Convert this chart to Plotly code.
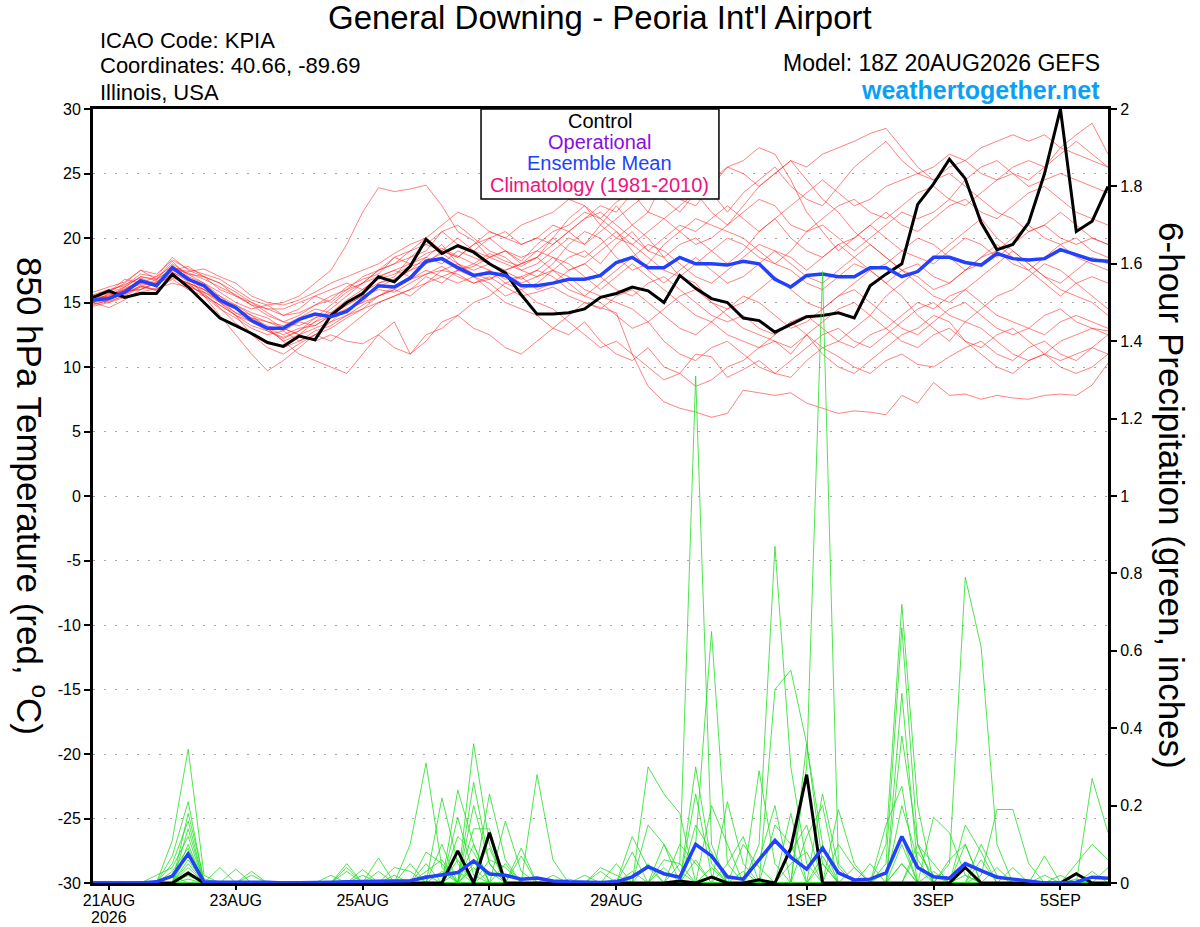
"""
GEFS plume for General Downing - Peoria Int'l Airport (KPIA)
850 hPa temperature (left axis) and 6-hour precipitation (right axis)
"""

import pandas as pd
import plotly.graph_objects as go

# GEFS 18Z 20AUG2026, 6-hourly steps out to 384 h
times = pd.date_range('2026-08-20 18:00', periods=65, freq='6h')

tick_dates = ['2026-08-21', '2026-08-23', '2026-08-25', '2026-08-27',
              '2026-08-29', '2026-09-01', '2026-09-03', '2026-09-05']
tick_labels = ['21AUG', '23AUG', '25AUG', '27AUG', '29AUG', '1SEP', '3SEP', '5SEP']

temp_ticks = [-30, -25, -20, -15, -10, -5, 0, 5, 10, 15, 20, 25, 30]
temp_tick_labels = ['-30', '-25', '-20', '-15', '-10', '-5', '0', '5', '10', '15', '20', '25', '30']

# ---- 850 hPa temperature (deg C) ----
temp_control = [15.4, 15.9, 15.4, 15.7, 15.7,
                17.2, 16.2, 15.0, 13.8, 13.2,
                12.6, 11.9, 11.6, 12.4, 12.1, 14.0, 15.0,
                15.7, 17.0, 16.6, 17.8, 19.9, 18.8, 19.4, 18.9, 18.0, 17.3, 15.6,
                14.1, 14.1, 14.2, 14.5, 15.4, 15.7, 16.2, 15.9, 15.0, 17.1, 16.1, 15.3, 15.0,
                13.8, 13.6, 12.7, 13.3, 13.9, 14.0, 14.2, 13.8, 16.3, 17.2, 18.0, 22.6,
                24.2, 26.1, 24.6, 21.2, 19.1, 19.5, 21.2, 25.0, 30.0, 20.5, 21.3, 24.0]

temp_mean = [15.2, 15.3, 15.8, 16.7, 16.3,
             17.7, 16.8, 16.3, 15.2, 14.6,
             13.6, 13.0, 13.0, 13.7, 14.1, 13.9, 14.3,
             15.3, 16.3, 16.2, 16.9, 18.2, 18.4, 17.7, 17.1, 17.3, 17.1, 16.3,
             16.3, 16.5, 16.8, 16.8, 17.1, 18.1, 18.5, 17.7, 17.7, 18.5, 18.0, 18.0, 17.9,
             18.2, 18.0, 16.8, 16.2, 17.1, 17.2, 17.0, 17.0, 17.7, 17.7, 17.0, 17.4,
             18.5, 18.5, 18.1, 17.9, 18.8, 18.4, 18.3, 18.4, 19.1, 18.7, 18.3, 18.2]

t01 = [15.0, 15.5, 16.2, 17.0, 16.8,
       18.0, 17.2, 16.5, 15.8, 15.0,
       14.5, 14.8, 15.0, 15.5, 16.5, 17.5, 19.5,
       22.0, 23.9, 23.6, 23.8, 24.1, 22.5, 20.5, 19.8, 18.5, 19.0, 18.2,
       19.5, 20.5, 21.0, 22.0, 21.5, 22.8, 23.5, 22.0, 24.5, 25.2, 24.8, 23.5, 22.0,
       23.5, 24.5, 25.5, 24.0, 23.0, 22.5, 24.0, 25.5, 26.5, 27.5, 26.0, 25.0,
       24.5, 25.5, 26.0, 27.0, 27.5, 28.0, 27.5, 28.0, 27.0, 26.5, 26.0, 25.5]
t02 = [15.3, 15.0, 15.6, 16.3, 16.0,
       17.0, 16.5, 15.5, 14.5, 13.8,
       13.0, 12.5, 12.8, 13.5, 13.2, 14.0, 14.8,
       15.5, 16.0, 15.8, 16.5, 17.2, 17.8, 17.0, 16.5, 17.0, 16.2, 15.5,
       15.8, 16.2, 15.5, 15.0, 14.6, 14.2, 11.0, 8.5, 7.3, 6.8, 6.5, 6.1, 6.4,
       8.2, 8.0, 7.8, 8.0, 7.2, 6.8, 6.4, 6.6, 6.5, 6.3, 7.8, 7.2,
       8.8, 7.8, 7.9, 7.5, 7.8, 7.6, 7.5, 7.8, 7.9, 7.8, 8.6, 10.3]
t03 = [14.8, 15.2, 15.9, 16.0, 16.5,
       17.5, 16.8, 16.2, 15.0, 14.0,
       12.5, 11.5, 11.0, 11.8, 12.5, 12.0, 13.0,
       14.0, 15.0, 15.5, 16.0, 17.0, 16.5, 17.5, 17.0, 16.0, 15.0, 14.5,
       14.0, 13.0, 12.5, 13.5, 12.0, 11.0, 10.5, 11.5, 10.0, 9.5, 11.0, 10.8, 9.2,
       9.8, 10.5, 9.5, 9.2, 10.5, 11.5, 10.8, 10.0, 9.5, 10.5, 11.0, 10.2,
       10.0, 10.8, 11.5, 12.0, 11.0, 10.5, 11.5, 12.0, 11.0, 10.5, 11.5, 12.5]
t04 = [15.5, 15.8, 16.5, 17.5, 16.8,
       18.2, 17.0, 15.5, 14.0, 12.5,
       11.0, 9.7, 10.5, 11.5, 12.5, 13.5, 14.5,
       15.0, 16.5, 17.0, 18.5, 19.0, 20.5, 21.0, 20.0, 19.0, 18.5, 17.5,
       18.0, 19.0, 20.0, 19.5, 21.0, 22.5, 21.0, 20.0, 18.5, 17.0, 16.5, 15.0, 14.0,
       13.0, 12.5, 12.0, 11.5, 12.5, 11.0, 10.0, 9.5, 10.5, 11.5, 12.5, 13.0,
       14.0, 13.5, 12.0, 11.5, 12.5, 13.0, 12.0, 11.0, 12.0, 12.5, 13.0, 12.8]
t05 = [15.0, 14.6, 15.2, 16.0, 16.5,
       17.0, 16.5, 16.0, 15.5, 14.5,
       13.5, 13.0, 12.0, 11.0, 10.5, 10.0, 9.5,
       11.0, 12.5, 13.5, 11.0, 12.0, 13.5, 14.0, 13.0, 12.5, 11.5, 11.0,
       12.0, 13.0, 14.0, 15.0, 14.5, 15.5, 16.0, 15.0, 14.0, 13.0, 12.5, 13.5, 14.5,
       15.0, 16.0, 17.0, 16.0, 15.0, 14.5, 15.5, 16.5, 17.5, 16.5, 15.5, 14.0,
       13.0, 12.0, 13.5, 14.5, 15.5, 16.0, 17.0, 18.0, 17.5, 16.5, 15.5, 14.5]
t06 = [15.2, 15.6, 16.0, 16.8, 16.2,
       17.6, 17.0, 16.5, 15.5, 14.8,
       14.0, 13.5, 13.2, 13.8, 14.5, 14.2, 15.0,
       15.8, 16.5, 16.8, 17.5, 18.5, 19.5, 18.0, 17.5, 18.0, 17.2, 16.5,
       17.0, 17.5, 18.5, 19.0, 18.0, 19.5, 20.5, 19.0, 18.5, 19.5, 20.0, 19.0, 18.0,
       19.0, 20.5, 21.5, 20.0, 19.0, 18.5, 19.5, 20.0, 21.0, 22.0, 21.0, 20.5,
       21.5, 22.5, 23.0, 22.0, 21.5, 22.5, 23.5, 24.0, 23.0, 22.0, 21.5, 21.0]
t07 = [15.4, 15.8, 16.8, 16.5, 17.0,
       17.8, 17.2, 17.0, 16.0, 15.5,
       14.8, 14.5, 14.0, 14.5, 15.5, 15.0, 16.0,
       17.0, 17.5, 18.0, 18.5, 19.5, 19.0, 18.5, 19.5, 20.0, 19.0, 18.0,
       18.5, 19.5, 20.5, 21.5, 22.5, 22.0, 23.5, 24.0, 24.5, 23.0, 22.5, 24.0, 25.5,
       26.0, 27.0, 26.5, 24.5, 22.0, 20.5, 19.0, 20.0, 21.0, 20.0, 19.0, 18.5,
       18.0, 19.0, 20.0, 19.5, 18.5, 19.5, 20.5, 21.0, 20.0, 19.5, 20.0, 19.5]
t08 = [14.9, 15.1, 15.5, 16.2, 16.0,
       16.8, 16.0, 15.5, 14.8, 14.0,
       13.5, 13.0, 12.5, 13.0, 13.2, 14.0, 14.5,
       15.0, 15.5, 16.0, 16.8, 17.5, 17.0, 17.5, 18.0, 17.5, 16.5, 16.0,
       16.5, 17.5, 17.0, 16.0, 15.5, 15.0, 14.5, 13.5, 12.0, 11.0, 10.5, 11.5, 12.0,
       11.0, 10.0, 9.5, 10.5, 11.5, 12.5, 13.0, 12.0, 11.5, 12.5, 13.5, 14.5,
       15.0, 14.0, 13.5, 13.0, 12.0, 11.0, 10.5, 11.0, 10.5, 11.0, 11.5, 11.0]
t09 = [15.6, 16.0, 16.3, 17.2, 17.0,
       18.5, 17.5, 17.0, 16.5, 15.5,
       15.0, 14.5, 14.5, 15.0, 15.5, 16.0, 16.5,
       16.0, 17.0, 17.5, 18.0, 18.5, 18.0, 19.0, 18.5, 18.0, 17.5, 18.0,
       19.0, 18.5, 17.5, 18.0, 19.0, 20.0, 19.5, 18.5, 17.5, 17.0, 18.0, 19.0, 20.0,
       19.5, 18.5, 18.0, 19.0, 20.5, 21.0, 20.0, 19.0, 20.0, 21.0, 22.0, 21.5,
       22.0, 23.0, 22.5, 23.5, 24.5, 25.0, 24.5, 25.5, 27.0, 28.0, 28.9, 26.5]
t10 = [15.1, 15.4, 16.1, 16.6, 16.3,
       17.3, 16.8, 16.2, 15.2, 14.2,
       13.8, 13.5, 13.0, 12.5, 13.5, 14.5, 15.5,
       16.5, 17.5, 18.0, 19.0, 19.5, 20.5, 19.5, 19.0, 20.0, 20.5, 19.5,
       20.0, 21.0, 20.5, 19.5, 20.5, 21.5, 22.5, 23.5, 23.0, 22.0, 23.5, 24.5, 25.5,
       25.0, 24.0, 25.0, 26.0, 25.5, 26.5, 27.0, 27.5, 28.1, 28.5, 27.0, 25.5,
       24.5, 25.0, 24.0, 23.0, 22.0, 21.5, 20.5, 21.0, 22.0, 21.0, 20.0, 19.5]
t11 = [15.5, 15.3, 15.9, 16.0, 16.6,
       17.4, 16.6, 15.8, 15.2, 14.5,
       14.0, 13.0, 12.0, 12.5, 13.0, 13.5, 14.0,
       14.5, 15.5, 16.0, 15.5, 16.5, 17.5, 18.0, 17.0, 16.5, 15.5, 16.0,
       15.0, 14.5, 13.5, 12.5, 11.5, 12.0, 11.0, 10.0, 9.0, 9.5, 8.5, 9.0, 10.0,
       10.5, 11.5, 12.0, 11.0, 12.5, 13.5, 14.5, 15.0, 14.0, 13.0, 12.0, 11.5,
       12.5, 13.0, 12.0, 11.0, 10.0, 9.5, 10.5, 11.0, 10.0, 9.5, 10.0, 11.0]
t12 = [15.0, 15.7, 15.8, 16.5, 16.3,
       17.5, 17.8, 17.0, 16.5, 15.8,
       15.0, 14.2, 13.5, 14.0, 14.8, 15.5, 16.0,
       16.5, 17.0, 17.5, 17.0, 18.0, 19.0, 20.0, 19.0, 18.5, 18.0, 17.5,
       17.0, 18.0, 19.5, 20.5, 20.0, 18.5, 17.5, 18.0, 19.5, 20.5, 21.5, 21.0, 20.5,
       20.0, 19.0, 18.0, 17.5, 16.5, 16.0, 17.0, 18.0, 17.5, 16.5, 17.5, 18.0,
       17.0, 16.5, 17.5, 18.5, 19.0, 18.0, 17.5, 18.5, 19.5, 20.0, 19.0, 18.5]
t13 = [14.7, 15.0, 15.4, 15.8, 16.1,
       16.5, 16.2, 15.8, 15.0, 14.5,
       13.8, 13.2, 12.8, 12.0, 12.5, 13.0, 13.8,
       14.5, 15.0, 15.5, 16.0, 16.5, 17.0, 16.5, 17.0, 17.5, 16.8, 17.0,
       16.0, 16.5, 17.5, 18.0, 17.0, 16.0, 15.5, 16.5, 17.0, 16.0, 15.0, 14.0, 13.5,
       14.0, 13.0, 12.5, 13.5, 14.0, 13.0, 12.0, 11.5, 12.5, 13.0, 14.0, 15.0,
       14.5, 15.5, 16.0, 15.0, 14.0, 13.5, 13.0, 12.5, 13.5, 14.0, 13.5, 13.0]
t14 = [15.8, 16.2, 16.6, 17.5, 17.2,
       18.3, 17.6, 17.2, 16.8, 16.0,
       15.2, 14.8, 14.0, 14.2, 14.8, 15.2, 16.2,
       16.8, 17.2, 18.5, 18.0, 18.8, 19.2, 18.6, 18.0, 18.8, 18.2, 17.8,
       18.5, 20.0, 21.5, 22.5, 21.0, 20.0, 21.0, 22.0, 21.5, 20.5, 19.5, 20.0, 21.0,
       22.0, 23.0, 22.5, 21.0, 20.5, 21.5, 22.5, 23.0, 22.0, 21.5, 22.5, 23.5,
       24.0, 23.0, 24.5, 25.5, 26.0, 25.0, 24.0, 24.5, 25.0, 24.5, 24.0, 23.5]
t15 = [15.3, 15.5, 16.0, 16.4, 16.6,
       17.2, 16.4, 15.6, 14.8, 14.0,
       13.2, 12.8, 12.3, 12.8, 13.8, 14.2, 15.2,
       16.0, 16.8, 17.2, 17.8, 18.2, 18.8, 18.0, 17.2, 16.8, 17.4, 16.8,
       17.5, 18.5, 18.0, 17.0, 16.0, 17.0, 18.0, 17.0, 16.0, 15.0, 14.0, 13.5, 12.5,
       12.0, 11.5, 12.5, 13.5, 12.5, 11.5, 12.0, 13.0, 14.0, 15.5, 16.5, 17.5,
       18.5, 19.5, 20.5, 21.5, 20.0, 19.0, 18.0, 17.0, 16.5, 17.5, 18.5, 18.0]
t16 = [15.2, 15.9, 16.4, 16.9, 16.4,
       17.9, 16.9, 16.0, 15.0, 14.2,
       13.5, 12.8, 12.2, 12.8, 13.5, 14.0, 14.8,
       15.5, 16.2, 16.8, 17.5, 18.0, 18.5, 17.5, 17.8, 18.5, 19.0, 18.5,
       19.0, 20.0, 19.0, 18.5, 19.5, 20.5, 19.0, 17.5, 16.5, 17.5, 18.5, 17.5, 16.5,
       17.0, 18.0, 19.0, 18.5, 17.5, 18.5, 19.5, 18.5, 17.5, 18.0, 19.0, 20.0,
       19.5, 18.5, 17.5, 18.0, 19.0, 20.0, 21.0, 20.0, 19.5, 18.5, 18.0, 17.5]
t17 = [15.0, 15.2, 15.7, 16.2, 16.8,
       17.6, 17.3, 16.8, 16.2, 15.6,
       14.8, 14.0, 13.5, 13.2, 13.8, 14.8, 15.8,
       16.5, 17.5, 18.5, 19.0, 20.0, 21.0, 22.0, 21.5, 20.5, 20.0, 21.0,
       21.5, 22.0, 23.0, 22.5, 21.5, 20.5, 19.5, 20.5, 21.5, 22.5, 23.5, 22.0, 21.0,
       22.5, 24.0, 25.0, 26.0, 24.5, 23.0, 22.0, 20.5, 19.5, 18.5, 17.5, 16.5,
       15.5, 15.0, 16.0, 17.0, 18.0, 19.0, 18.0, 17.0, 16.0, 15.5, 15.0, 14.0]
t18 = [15.6, 15.4, 16.0, 16.6, 16.4,
       17.1, 16.3, 15.7, 14.6, 13.4,
       12.5, 12.0, 11.5, 12.0, 12.8, 13.2, 14.0,
       14.8, 15.5, 16.2, 16.8, 17.2, 17.5, 17.2, 16.5, 16.8, 17.5, 18.0,
       18.5, 17.5, 16.5, 15.5, 15.0, 14.0, 13.0, 13.5, 14.5, 15.5, 16.0, 15.0, 14.5,
       15.5, 15.0, 14.0, 13.0, 13.5, 14.5, 15.5, 16.0, 15.0, 14.0, 13.0, 12.5,
       13.5, 14.5, 15.0, 14.0, 13.0, 12.5, 13.0, 14.0, 14.5, 13.5, 13.0, 12.5]
t19 = [15.4, 15.7, 16.2, 17.0, 16.7,
       17.7, 17.4, 17.6, 17.0, 16.5,
       15.5, 15.0, 14.8, 15.2, 15.8, 16.5, 17.0,
       17.5, 18.0, 18.8, 19.5, 20.0, 19.0, 18.5, 19.5, 20.5, 20.0, 19.5,
       20.0, 19.5, 20.5, 21.5, 22.0, 21.0, 20.0, 19.0, 20.0, 21.0, 20.5, 21.5, 22.5,
       21.5, 20.5, 21.5, 22.5, 23.5, 24.5, 23.5, 22.5, 23.0, 24.0, 24.5, 25.0,
       25.5, 26.5, 26.0, 25.0, 24.5, 25.5, 26.0, 25.5, 26.5, 27.5, 26.5, 25.5]
t20 = [15.1, 15.3, 15.7, 16.3, 15.9,
       16.9, 16.5, 16.0, 15.2, 14.8,
       14.2, 13.8, 13.0, 12.5, 12.0, 12.5, 12.0,
       11.8, 12.5, 11.5, 11.0, 12.5, 13.0, 14.0, 15.0, 15.5, 16.5, 17.0,
       17.5, 17.0, 16.0, 15.5, 16.5, 17.5, 18.5, 19.5, 19.0, 18.0, 17.0, 16.5, 17.5,
       18.5, 19.5, 19.0, 18.0, 17.0, 16.5, 17.5, 18.5, 19.5, 18.5, 17.5, 17.0,
       16.0, 16.5, 17.5, 18.5, 19.5, 18.5, 17.5, 16.5, 15.5, 16.5, 17.0, 16.5]

temp_members = [t01, t02, t03, t04, t05, t06, t07, t08, t09, t10,
                t11, t12, t13, t14, t15, t16, t17, t18, t19, t20]

# ---- 6-hour precipitation (inches) ----
precip_control = [0, 0, 0, 0, 0, 0, 0.026, 0, 0, 0, 0, 0, 0,
                  0, 0, 0, 0, 0, 0, 0, 0, 0, 0, 0.083, 0, 0.13,
                  0, 0, 0, 0, 0, 0, 0, 0, 0, 0, 0, 0.005, 0,
                  0.015, 0, 0, 0.008, 0, 0.09, 0.28, 0, 0, 0, 0, 0, 0,
                  0, 0, 0, 0.04, 0, 0, 0, 0, 0, 0, 0.024, 0, 0]

precip_mean = [0, 0, 0, 0, 0.003, 0.018, 0.075, 0.003, 0.002, 0.002, 0.004, 0.002, 0,
               0, 0, 0.002, 0.003, 0.004, 0.004, 0.005, 0.006, 0.015, 0.02, 0.027, 0.057, 0.023,
               0.02, 0.01, 0.013, 0.005, 0.003, 0.002, 0.001, 0.003, 0.016, 0.042, 0.024, 0.015, 0.1,
               0.07, 0.016, 0.01, 0.06, 0.11, 0.067, 0.036, 0.09, 0.026, 0.008, 0.01, 0.026, 0.12,
               0.04, 0.016, 0.012, 0.05, 0.032, 0.015, 0.01, 0.006, 0, 0, 0.002, 0.015, 0.012]

p01 = [0, 0, 0, 0, 0, 0.11, 0.346, 0.02, 0, 0, 0, 0, 0,
       0, 0, 0, 0, 0, 0, 0, 0, 0.05, 0, 0, 0.36, 0.1,
       0, 0, 0, 0, 0, 0, 0, 0, 0, 0, 0, 0.05, 1.31,
       0.1, 0, 0, 0, 0, 0, 0, 0, 0, 0, 0, 0, 0.05,
       0, 0, 0, 0.02, 0, 0, 0, 0, 0, 0, 0, 0, 0]
p02 = [0, 0, 0, 0, 0, 0.07, 0.21, 0, 0, 0, 0, 0, 0,
       0, 0, 0, 0, 0, 0, 0, 0, 0, 0.22, 0.05, 0, 0,
       0, 0, 0, 0, 0, 0, 0, 0, 0.12, 0.04, 0, 0, 0.1,
       0.65, 0.05, 0, 0, 0, 0, 0, 0.05, 0, 0, 0, 0, 0,
       0, 0.17, 0.13, 0.02, 0, 0, 0, 0, 0, 0, 0, 0, 0]
p03 = [0, 0, 0, 0, 0, 0, 0.18, 0.01, 0, 0, 0, 0, 0,
       0, 0, 0, 0, 0, 0, 0, 0.1, 0.31, 0.04, 0, 0, 0,
       0, 0, 0.28, 0.06, 0, 0, 0, 0, 0, 0, 0, 0, 0,
       0, 0, 0, 0, 0, 0, 0.3, 1.58, 0.05, 0, 0, 0, 0.1,
       0, 0, 0, 0, 0, 0, 0, 0, 0, 0, 0, 0, 0]
p04 = [0, 0, 0, 0, 0, 0.05, 0.16, 0, 0, 0, 0, 0, 0,
       0, 0, 0, 0, 0, 0, 0, 0, 0, 0, 0.24, 0.1, 0,
       0, 0, 0, 0, 0, 0, 0, 0, 0, 0.3, 0.23, 0.18, 0,
       0, 0, 0, 0.1, 0.87, 0.3, 0.05, 0, 0, 0, 0, 0, 0,
       0, 0, 0, 0.1, 0, 0, 0, 0, 0, 0, 0, 0, 0]
p05 = [0, 0, 0, 0, 0, 0, 0.14, 0, 0, 0.036, 0, 0, 0,
       0, 0, 0, 0, 0, 0, 0, 0, 0, 0, 0, 0.26, 0.05,
       0, 0, 0, 0, 0, 0, 0.03, 0, 0, 0, 0, 0, 0,
       0, 0, 0, 0, 0.5, 0.55, 0.36, 0.1, 0, 0, 0, 0, 0.38,
       0.1, 0, 0, 0, 0, 0, 0, 0, 0, 0, 0, 0, 0]
p06 = [0, 0, 0, 0, 0.02, 0.04, 0.12, 0, 0, 0, 0, 0, 0,
       0, 0, 0, 0.05, 0, 0, 0, 0, 0, 0, 0, 0, 0.23,
       0.06, 0, 0, 0, 0, 0, 0, 0, 0, 0, 0, 0, 0.3,
       0.05, 0, 0, 0, 0, 0, 0, 0, 0, 0, 0, 0.1, 0.72,
       0.2, 0, 0, 0, 0, 0, 0, 0, 0, 0, 0, 0.27, 0.13]
p07 = [0, 0, 0, 0, 0, 0, 0.1, 0, 0.04, 0, 0, 0, 0,
       0, 0, 0, 0, 0.035, 0, 0, 0, 0, 0, 0, 0.2, 0.05,
       0, 0, 0, 0, 0, 0, 0, 0.05, 0, 0, 0, 0, 0,
       0, 0.21, 0.05, 0, 0, 0, 0, 0, 0, 0, 0, 0.05, 0.66,
       0.1, 0, 0, 0, 0.06, 0, 0, 0, 0, 0, 0, 0, 0]
p08 = [0, 0, 0, 0, 0, 0.03, 0.09, 0, 0, 0, 0, 0, 0,
       0, 0, 0, 0, 0, 0.065, 0, 0, 0, 0, 0.17, 0.02, 0,
       0.16, 0.03, 0, 0, 0, 0, 0, 0, 0, 0.15, 0.1, 0, 0,
       0, 0, 0, 0.29, 0.05, 0, 0, 0, 0, 0, 0, 0, 0.49,
       0.04, 0, 0, 0, 0, 0, 0, 0, 0.07, 0, 0, 0, 0]
p09 = [0, 0, 0, 0, 0, 0, 0.08, 0, 0, 0, 0.03, 0, 0,
       0, 0, 0, 0, 0, 0, 0.04, 0.03, 0, 0, 0, 0.14, 0.14,
       0, 0.09, 0, 0, 0, 0, 0, 0, 0, 0, 0, 0, 0.23,
       0.02, 0, 0, 0, 0, 0, 0, 0, 0.19, 0.05, 0, 0, 0,
       0, 0, 0.05, 0.79, 0.61, 0.1, 0, 0, 0, 0, 0, 0, 0]
p10 = [0, 0, 0, 0, 0, 0, 0.06, 0, 0, 0, 0, 0, 0,
       0, 0, 0, 0.04, 0, 0, 0, 0, 0.08, 0.05, 0, 0, 0,
       0, 0.07, 0, 0, 0, 0, 0, 0, 0, 0, 0.1, 0.03, 0,
       0, 0, 0, 0, 0, 0, 0.36, 0.05, 0, 0, 0, 0, 0,
       0, 0, 0, 0, 0.02, 0.19, 0.19, 0.05, 0, 0, 0, 0, 0]
p11 = [0, 0, 0, 0, 0, 0, 0.05, 0, 0, 0, 0, 0, 0,
       0, 0, 0.02, 0, 0, 0, 0, 0, 0, 0.1, 0, 0, 0.06,
       0.04, 0, 0, 0, 0, 0, 0, 0, 0.08, 0, 0, 0, 0,
       0, 0, 0.1, 0.04, 0, 0.18, 0, 0, 0, 0, 0, 0.15, 0.25,
       0, 0, 0, 0, 0, 0, 0, 0, 0, 0, 0.05, 0.1, 0.06]
p12 = [0, 0, 0, 0, 0, 0, 0.04, 0, 0, 0, 0, 0, 0,
       0, 0, 0, 0, 0, 0.03, 0, 0, 0, 0, 0.12, 0.08, 0,
       0, 0, 0, 0.02, 0, 0, 0, 0, 0, 0, 0.06, 0.05, 0,
       0, 0, 0, 0, 0.15, 0.1, 0, 0, 0, 0, 0.05, 0, 0,
       0, 0, 0, 0.15, 0.08, 0, 0, 0, 0, 0, 0, 0, 0]
p13 = [0, 0, 0, 0, 0, 0, 0.03, 0, 0, 0, 0, 0, 0,
       0, 0, 0, 0, 0.02, 0, 0, 0, 0.03, 0.06, 0, 0, 0,
       0, 0, 0, 0, 0.01, 0, 0, 0, 0, 0, 0, 0, 0.15,
       0.08, 0, 0, 0, 0, 0, 0.12, 0.2, 0, 0, 0, 0, 0,
       0.1, 0.05, 0, 0, 0, 0, 0.04, 0, 0, 0, 0, 0, 0]
p14 = [0, 0, 0, 0, 0, 0, 0.02, 0, 0, 0, 0, 0, 0,
       0, 0, 0, 0, 0, 0, 0.02, 0, 0, 0, 0, 0.05, 0.09,
       0, 0, 0, 0, 0, 0, 0.04, 0.02, 0, 0, 0, 0, 0,
       0, 0.05, 0.12, 0, 0, 0, 0, 0, 0.1, 0.04, 0, 0, 0,
       0, 0, 0.06, 0.1, 0, 0, 0, 0, 0, 0.02, 0, 0, 0]
p15 = [0, 0, 0, 0, 0, 0.02, 0, 0, 0, 0, 0, 0, 0,
       0, 0, 0, 0, 0, 0, 0, 0.05, 0, 0, 0.06, 0, 0,
       0, 0, 0, 0, 0, 0, 0, 0, 0, 0.05, 0, 0, 0,
       0.2, 0.1, 0, 0, 0, 0.08, 0.15, 0, 0, 0, 0, 0, 0.2,
       0.06, 0, 0, 0, 0, 0.04, 0, 0, 0, 0, 0, 0, 0]
p16 = [0, 0, 0, 0, 0, 0, 0.01, 0, 0, 0, 0, 0, 0,
       0, 0, 0, 0.03, 0, 0, 0, 0, 0, 0, 0, 0.04, 0,
       0, 0, 0, 0, 0, 0, 0, 0, 0, 0, 0, 0.1, 0.05,
       0, 0, 0, 0, 0, 0, 0, 0.23, 0.04, 0, 0, 0, 0,
       0, 0.03, 0, 0, 0, 0, 0, 0, 0, 0, 0, 0, 0.04]
p17 = [0, 0, 0, 0, 0, 0, 0, 0, 0, 0, 0.02, 0, 0,
       0, 0, 0, 0, 0, 0, 0, 0, 0, 0.03, 0, 0, 0,
       0.05, 0, 0, 0, 0, 0, 0, 0, 0.03, 0, 0, 0, 0,
       0, 0, 0, 0.06, 0.2, 0, 0, 0, 0, 0, 0, 0.03, 0.12,
       0, 0, 0, 0.04, 0, 0, 0, 0, 0, 0, 0, 0, 0]
p18 = [0, 0, 0, 0, 0, 0, 0, 0, 0, 0, 0, 0, 0,
       0, 0, 0, 0, 0, 0, 0, 0, 0.02, 0, 0, 0, 0.03,
       0, 0, 0, 0, 0, 0.02, 0, 0, 0, 0, 0, 0, 0,
       0.04, 0, 0, 0, 0, 0.05, 0.08, 0, 0, 0, 0, 0, 0,
       0.08, 0.02, 0, 0, 0, 0, 0, 0, 0.02, 0, 0, 0, 0]
p19 = [0, 0, 0, 0, 0, 0, 0.02, 0, 0, 0, 0, 0, 0,
       0, 0, 0, 0, 0, 0, 0, 0, 0, 0, 0.03, 0, 0,
       0, 0, 0, 0, 0, 0, 0, 0, 0, 0, 0.04, 0, 0,
       0, 0, 0.03, 0, 0, 0, 0, 0, 0, 0.04, 0, 0, 0,
       0, 0, 0, 0, 0.1, 0.02, 0, 0, 0, 0, 0, 0.03, 0]
p20 = [0, 0, 0, 0, 0, 0, 0, 0, 0, 0, 0, 0, 0,
       0, 0, 0, 0, 0, 0, 0, 0, 0, 0, 0, 0.1, 0,
       0, 0, 0, 0, 0, 0, 0, 0.01, 0, 0, 0, 0, 0.06,
       0, 0, 0, 0, 0, 0, 0, 0.07, 0, 0, 0, 0, 0.05,
       0, 0, 0, 0, 0, 0, 0, 0, 0, 0, 0.01, 0, 0]

precip_members = [p01, p02, p03, p04, p05, p06, p07, p08, p09, p10,
                  p11, p12, p13, p14, p15, p16, p17, p18, p19, p20]

FONT = 'Liberation Sans, Arial, Helvetica, sans-serif'
RED = 'rgba(255, 30, 30, 0.7)'
GREEN = '#22dd22'
MEAN_BLUE = '#2141ff'

fig = go.Figure()

# Ensemble members
for series in temp_members:
    fig.add_trace(go.Scatter(x=times, y=series, mode='lines', yaxis='y',
                             line=dict(color=RED, width=0.8),
                             showlegend=False, hoverinfo='skip'))

for series in precip_members:
    fig.add_trace(go.Scatter(x=times, y=series, mode='lines', yaxis='y2',
                             line=dict(color=GREEN, width=0.8),
                             showlegend=False, hoverinfo='skip'))

# Control run
fig.add_trace(go.Scatter(x=times, y=precip_control, mode='lines', yaxis='y2',
                         line=dict(color='black', width=3), showlegend=False))
fig.add_trace(go.Scatter(x=times, y=temp_control, mode='lines', yaxis='y',
                         line=dict(color='black', width=3), showlegend=False))

# Ensemble mean
fig.add_trace(go.Scatter(x=times, y=precip_mean, mode='lines', yaxis='y2',
                         line=dict(color=MEAN_BLUE, width=3.5), showlegend=False))
fig.add_trace(go.Scatter(x=times, y=temp_mean, mode='lines', yaxis='y',
                         line=dict(color=MEAN_BLUE, width=3.5), showlegend=False))

fig.update_layout(
    width=1200,
    height=927,
    margin=dict(l=93, r=92, t=109, b=44),
    paper_bgcolor='white',
    plot_bgcolor='white',
    font=dict(family=FONT, color='black', size=15),
    showlegend=False,
    xaxis=dict(
        type='date',
        range=[times[0], times[-1]],
        tickvals=pd.to_datetime(tick_dates),
        ticktext=tick_labels,
        ticks='outside', ticklen=4, tickwidth=2, tickcolor='black',
        ticklabelstandoff=-3,
        showline=True, linewidth=3, linecolor='black', mirror=True,
        showgrid=False, zeroline=False, automargin=False,
        tickfont=dict(size=16),
    ),
    yaxis=dict(
        range=[-30, 30],
        tickvals=temp_ticks, ticktext=temp_tick_labels,
        ticks='outside', ticklen=6, tickwidth=2, tickcolor='black',
        showline=True, linewidth=3, linecolor='black',
        showgrid=True, gridcolor='#a8a8a8', gridwidth=1, griddash='2px,9px',
        zeroline=False, automargin=False,
        tickfont=dict(size=16),
    ),
    yaxis2=dict(
        overlaying='y', side='right',
        range=[0, 2], tick0=0, dtick=0.2,
        ticks='outside', ticklen=6, tickwidth=2, tickcolor='black',
        showline=True, linewidth=3, linecolor='black',
        showgrid=False, zeroline=False, automargin=False,
        tickfont=dict(size=16),
    ),
)

# year under the first date label
fig.add_annotation(text='2026', xref='x', yref='paper', x=tick_dates[0], y=-0.0449,
                   xanchor='center', yanchor='middle', showarrow=False,
                   font=dict(size=16))

# Legend box
fig.add_shape(type='rect', xref='paper', yref='paper',
              x0=0.3823, x1=0.6167, y0=0.8837, y1=1.0,
              fillcolor='white', line=dict(color='black', width=1.5), layer='above')

legend_items = [('Control', 'black', 0.9845),
                ('Operational', '#8a0ee0', 0.9574),
                ('Ensemble Mean', '#2141ff', 0.9302),
                ('Climatology (1981-2010)', '#f0127e', 0.9018)]
for text, color, ypos in legend_items:
    fig.add_annotation(text=text, xref='paper', yref='paper', x=0.4995, y=ypos,
                       xanchor='center', yanchor='middle', showarrow=False,
                       font=dict(size=20, color=color))

# Titles and header text
fig.add_annotation(text="General Downing - Peoria Int'l Airport", xref='paper', yref='paper',
                   x=0.4995, y=1.1176, xanchor='center', yanchor='middle', showarrow=False,
                   font=dict(size=33))
for text, ypos in [('ICAO Code: KPIA', 1.0891),
                   ('Coordinates: 40.66, -89.69', 1.0556),
                   ('Illinois, USA', 1.0207)]:
    fig.add_annotation(text=text, xref='paper', yref='paper', x=0.0049, y=ypos,
                       xanchor='left', yanchor='middle', showarrow=False,
                       font=dict(size=22))
fig.add_annotation(text='Model: 18Z 20AUG2026 GEFS', xref='paper', yref='paper',
                   x=0.9941, y=1.0595, xanchor='right', yanchor='middle', showarrow=False,
                   font=dict(size=23))
fig.add_annotation(text='<b>weathertogether.net</b>', xref='paper', yref='paper',
                   x=0.9941, y=1.0245, xanchor='right', yanchor='middle', showarrow=False,
                   font=dict(size=25, color='#0aa0f5'))

# Axis titles (read top to bottom)
fig.add_annotation(text='850 hPa Temperature (red, <sup>o</sup>C)', xref='paper', yref='paper',
                   x=-0.0601, y=0.5, xanchor='center', yanchor='middle', showarrow=False,
                   textangle=90, font=dict(size=35))
fig.add_annotation(text='6-hour Precipitation (green, inches)', xref='paper', yref='paper',
                   x=1.063, y=0.5, xanchor='center', yanchor='middle', showarrow=False,
                   textangle=90, font=dict(size=35))

# page body margin would shift the fixed-size figure by 8px; hide the modebar
fig.write_html('out.html', config={'displayModeBar': False},
               post_script="document.body.style.margin='0px';")
